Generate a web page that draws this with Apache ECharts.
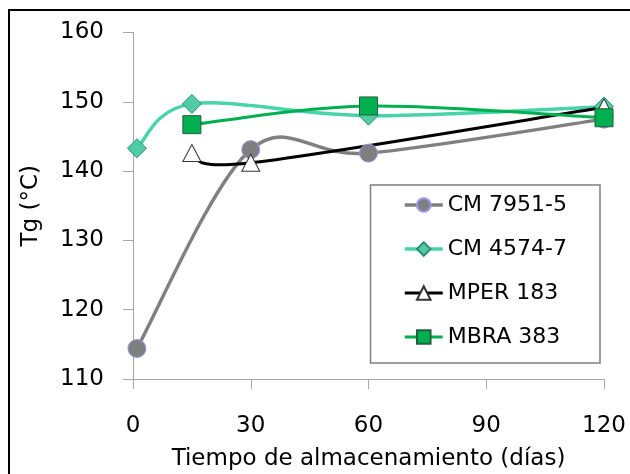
<!DOCTYPE html>
<html>
<head>
<meta charset="utf-8">
<script src="https://cdn.jsdelivr.net/npm/echarts@6/dist/echarts.min.js"></script>
<style>
  html, body { margin: 0; padding: 0; background: #fff; }
  #chart { width: 630px; height: 474px; }
</style>
</head>
<body>
<div id="chart"></div>
<script>
// Glass transition temperature over storage time
const cm7951Days = [1, 30, 60, 120];
const cm7951Tg   = [114.4, 143.1, 142.6, 147.5];

const cm4574Days = [1, 15, 60, 120];
const cm4574Tg   = [143.3, 149.7, 148.0, 149.3];

const mper183Days = [15, 30, 120];
const mper183Tg   = [142.6, 141.2, 149.2];

const mbra383Days = [15, 60, 120];
const mbra383Tg   = [146.7, 149.4, 147.7];

const xTicks = [0, 30, 60, 90, 120];
const yTicks = [110, 120, 130, 140, 150, 160];

const FONT = 'DejaVu Sans';

function pairs(days, vals) {
  return days.map((d, i) => [d, vals[i]]);
}

// Smoothed connector (Catmull-Rom as cubic Bezier) through the series points,
// positioned via the cartesian coordinate system.
function smoothCurve(color, width) {
  return function (params, api) {
    if (params.dataIndexInside !== 0) return null;
    const n = params.dataInsideLength;
    const pts = [];
    for (let i = 0; i < n; i++) {
      pts.push(api.coord([api.value(0, i), api.value(1, i)]));
    }
    let d = 'M' + pts[0][0] + ' ' + pts[0][1];
    for (let i = 0; i < n - 1; i++) {
      const p0 = pts[Math.max(i - 1, 0)];
      const p1 = pts[i];
      const p2 = pts[i + 1];
      const p3 = pts[Math.min(i + 2, n - 1)];
      const c1x = p1[0] + (p2[0] - p0[0]) / 6;
      const c1y = p1[1] + (p2[1] - p0[1]) / 6;
      const c2x = p2[0] - (p3[0] - p1[0]) / 6;
      const c2y = p2[1] - (p3[1] - p1[1]) / 6;
      d += ' C' + c1x + ' ' + c1y + ' ' + c2x + ' ' + c2y + ' ' + p2[0] + ' ' + p2[1];
    }
    return {
      type: 'path',
      shape: { pathData: d },
      style: { fill: 'none', stroke: color, lineWidth: width, lineJoin: 'round', lineCap: 'round' }
    };
  };
}

const seriesDefs = [
  { name: 'CM 7951-5', data: pairs(cm7951Days, cm7951Tg), line: '#808080', width: 3.5,
    symbol: 'circle', size: 18, item: { color: '#7f7f7f', borderColor: '#9a96e8', borderWidth: 1 } },
  { name: 'CM 4574-7', data: pairs(cm4574Days, cm4574Tg), line: '#48d3a8', width: 3.5,
    symbol: 'diamond', size: 19, item: { color: '#50cca5', borderColor: '#2f8f70', borderWidth: 1 } },
  { name: 'MPER 183', data: pairs(mper183Days, mper183Tg), line: '#000000', width: 3,
    symbol: 'triangle', size: [18, 17], item: { color: '#ffffff', borderColor: '#333333', borderWidth: 1 } },
  { name: 'MBRA 383', data: pairs(mbra383Days, mbra383Tg), line: '#00b050', width: 3,
    symbol: 'rect', size: 18, item: { color: '#00b050', borderColor: '#235f3c', borderWidth: 1 } }
];

const series = [];
seriesDefs.forEach(s => {
  series.push({
    name: s.name + ' (curva)',
    type: 'custom',
    data: s.data,
    renderItem: smoothCurve(s.line, s.width),
    silent: true
  });
  series.push({
    name: s.name,
    type: 'line',
    data: s.data,
    symbol: s.symbol,
    symbolSize: s.size,
    lineStyle: { width: 0, opacity: 0, color: s.line },
    itemStyle: s.item
  });
});

const chart = echarts.init(document.getElementById('chart'), null, { renderer: 'canvas' });

const option = {
  backgroundColor: '#ffffff',
  animation: false,
  grid: { left: 133, right: 26, top: 32.5, bottom: 95, containLabel: false, outerBoundsMode: 'none' },
  xAxis: {
    type: 'value',
    min: xTicks[0],
    max: xTicks[xTicks.length - 1],
    interval: 30,
    name: 'Tiempo de almacenamiento (días)',
    nameLocation: 'middle',
    nameGap: 69,
    nameTextStyle: { fontFamily: FONT, fontSize: 23, color: '#000' },
    axisLine: { show: true, lineStyle: { color: '#a6a6a6', width: 1 } },
    axisTick: { show: true, length: 10, lineStyle: { color: '#a6a6a6' } },
    axisLabel: { margin: 36, fontFamily: FONT, fontSize: 23, color: '#000' },
    splitLine: { show: false }
  },
  yAxis: {
    type: 'value',
    min: yTicks[0],
    max: yTicks[yTicks.length - 1],
    interval: 10,
    name: 'Tg (°C)',
    nameLocation: 'middle',
    nameGap: 90,
    nameRotate: 90,
    nameTextStyle: { fontFamily: FONT, fontSize: 23, color: '#000' },
    axisLine: { show: true, lineStyle: { color: '#a6a6a6', width: 1 } },
    axisTick: { show: true, length: 10, lineStyle: { color: '#a6a6a6' } },
    axisLabel: { margin: 29, fontFamily: FONT, fontSize: 23, color: '#000' },
    splitLine: { show: false }
  },
  legend: {
    orient: 'vertical',
    left: 403,
    top: 194,
    padding: 0,
    itemWidth: 38,
    itemHeight: 17,
    itemGap: 22,
    textStyle: { fontFamily: FONT, fontSize: 22, color: '#000' },
    data: seriesDefs.map(s => ({
      name: s.name,
      lineStyle: { color: s.line, width: s.width, opacity: 1 }
    }))
  },
  graphic: [
    {
      type: 'rect',
      shape: { x: 9, y: 10, width: 700, height: 600 },
      style: { fill: 'none', stroke: '#000', lineWidth: 2 },
      silent: true
    },
    {
      type: 'rect',
      shape: { x: 370.5, y: 185, width: 229.5, height: 178 },
      style: { fill: 'none', stroke: '#7f7f7f', lineWidth: 1.5 },
      silent: true,
      z: 1
    }
  ],
  series: series
};

chart.setOption(option);
</script>
</body>
</html>
